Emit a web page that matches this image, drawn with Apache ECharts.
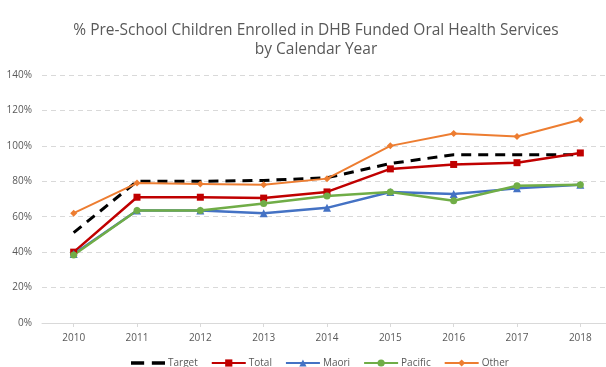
<!DOCTYPE html>
<html>
<head>
<meta charset="utf-8">
<script src="https://cdn.jsdelivr.net/npm/echarts@6/dist/echarts.min.js"></script>
<style>
  html, body { margin: 0; padding: 0; background: #fff; }
  #chart { width: 606px; height: 367px; }
</style>
</head>
<body>
<div id="chart"></div>
<script>
// Calendar years on the x axis
const years = ['2010', '2011', '2012', '2013', '2014', '2015', '2016', '2017', '2018'];

// Enrolment rates (%) per group
const target  = [51, 80, 80, 80.5, 82, 90, 95, 95, 95];
const total   = [40, 71, 71, 70.5, 74, 87, 89.5, 90.5, 96];
const maori   = [39, 63.5, 63.5, 62, 65, 74, 72.8, 76, 78];
const pacific = [38.4, 63.5, 63.5, 67.5, 71.7, 74, 69, 77.5, 78];
const other   = [62, 79, 78.5, 78, 81.5, 100, 107, 105.3, 114.7];

const textColor = '#595959';
const fontFamily = 'Open Sans, Liberation Sans, sans-serif';

const chart = echarts.init(document.getElementById('chart'), null, { renderer: 'canvas' });

function line(name, data, color, symbol, size, extra) {
  return Object.assign({
    name: name,
    type: 'line',
    data: data,
    symbol: symbol,
    symbolSize: size,
    showSymbol: true,
    itemStyle: { color: color },
    lineStyle: { color: color, width: 2.5 },
    emphasis: { disabled: true },
    animation: false
  }, extra || {});
}

chart.setOption({
  backgroundColor: '#fff',
  title: {
    text: '% Pre-School Children Enrolled in DHB Funded Oral Health Services\nby Calendar Year',
    left: 311,
    textAlign: 'center',
    top: 16,
    textStyle: { color: textColor, fontSize: 15.5, fontWeight: 'normal', fontFamily: fontFamily, lineHeight: 19 }
  },
  legend: {
    bottom: -6,
    left: 126,
    itemWidth: 34,
    itemHeight: 9,
    itemGap: 13,
    textStyle: { color: textColor, fontSize: 10, fontFamily: fontFamily, padding: [0, 0, 0, -2] },
    data: [
      { name: 'Target', icon: 'path://M0,3h12v3h-12zM19,3h12v3h-12z' },
      'Total', 'Maori', 'Pacific', 'Other'
    ]
  },
  grid: { left: 42, top: 75, width: 570, height: 248, containLabel: false, outerBoundsMode: 'none' },
  xAxis: {
    type: 'category',
    data: years,
    boundaryGap: true,
    axisLine: { lineStyle: { color: '#d9d9d9' } },
    axisTick: { show: true, alignWithLabel: true, length: 4, lineStyle: { color: '#d9d9d9' } },
    axisLabel: { color: textColor, fontSize: 10, fontFamily: fontFamily, margin: 10 },
    splitLine: { show: false }
  },
  yAxis: {
    type: 'value',
    min: 0,
    max: 140,
    interval: 20,
    axisLine: { show: false },
    axisTick: { show: false },
    axisLabel: { color: textColor, fontSize: 10, fontFamily: fontFamily, formatter: '{value}%', margin: 10 },
    splitLine: { lineStyle: { color: '#d9d9d9', type: [5, 4], width: 1 } }
  },
  series: [
    line('Target', target, '#000000', 'none', 0, {
      itemStyle: { color: '#000000' },
      lineStyle: { color: '#000000', width: 3, type: [10, 7] }
    }),
    line('Total', total, '#C00000', 'rect', 7),
    line('Maori', maori, '#4472C4', 'triangle', 8),
    line('Pacific', pacific, '#70AD47', 'circle', 7),
    line('Other', other, '#ED7D31', 'diamond', 7, { lineStyle: { color: '#ED7D31', width: 2 } })
  ]
});
</script>
</body>
</html>
